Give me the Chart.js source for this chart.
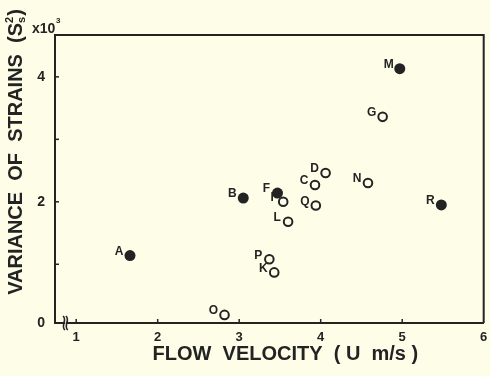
<!DOCTYPE html>
<html>
<head>
<meta charset="utf-8">
<script src="https://cdn.jsdelivr.net/npm/chart.js@4.4.1/dist/chart.umd.min.js"></script>
<style>
html,body{margin:0;padding:0;background:#fdfde8;}
canvas{display:block;}
</style>
</head>
<body>
<canvas id="c" width="490" height="376"></canvas>
<script>
// ---- data ----
const filledLabels = ['A','B','F','M','R'];
const filledVelocity = [1.66, 3.05, 3.47, 4.97, 5.48];
const filledVariance = [1.14, 2.06, 2.14, 4.13, 1.95];

const openLabels = ['C','D','G','I','K','L','N','O','P','Q'];
const openVelocity = [3.93, 4.06, 4.76, 3.54, 3.43, 3.60, 4.58, 2.82, 3.37, 3.94];
const openVariance = [2.27, 2.46, 3.36, 2.00, 0.87, 1.68, 2.30, 0.19, 1.08, 1.94];

const xTickValues = [1, 2, 3, 4, 5, 6];
const yTickValues = [1, 2, 3, 4];
const yTickLabels = {0: '0', 2: '2', 4: '4'};
const xTitle = 'FLOW  VELOCITY  ( U  m/s )';
const yTitle = 'VARIANCE  OF  STRAINS  (S';

const X_MIN = 0.74, X_MAX = 6.0, Y_MIN = 0.06, Y_MAX = 4.67;
const INK = '#232323';
const BG = '#fdfde8';
const FONT = '"Liberation Sans", Arial, Helvetica, sans-serif';

function pts(xs, ys) { return xs.map((x, i) => ({x: x, y: ys[i]})); }

const decor = {
  id: 'decor',
  beforeDraw(chart) {
    const ctx = chart.ctx;
    ctx.save();
    ctx.fillStyle = BG;
    ctx.fillRect(0, 0, chart.width, chart.height);
    ctx.restore();
  },
  afterDraw(chart) {
    const ctx = chart.ctx;
    const a = chart.chartArea;
    const xs = chart.scales.x, ys = chart.scales.y;
    ctx.save();
    ctx.strokeStyle = INK;
    ctx.lineWidth = 2;
    // top and right frame
    ctx.beginPath();
    ctx.moveTo(a.left, a.top);
    ctx.lineTo(a.right, a.top);
    ctx.lineTo(a.right, a.bottom);
    ctx.stroke();
    // inward ticks
    ctx.lineWidth = 1.5;
    xTickValues.slice(0, -1).forEach(v => {
      const px = xs.getPixelForValue(v);
      ctx.beginPath(); ctx.moveTo(px, a.bottom); ctx.lineTo(px, a.bottom - 4); ctx.stroke();
    });
    yTickValues.forEach(v => {
      const py = ys.getPixelForValue(v);
      ctx.beginPath(); ctx.moveTo(a.left, py); ctx.lineTo(a.left + 4, py); ctx.stroke();
    });
    // axis break on x axis
    const b1 = xs.getPixelForValue(0.85), b2 = xs.getPixelForValue(0.885);
    ctx.fillStyle = BG;
    ctx.fillRect(b1 + 1, a.bottom - 3, b2 - b1 - 2, 6);
    ctx.lineWidth = 1.6;
    [b1, b2].forEach(bx => {
      ctx.beginPath();
      ctx.moveTo(bx - 1, a.bottom - 7);
      ctx.bezierCurveTo(bx + 4, a.bottom - 3, bx - 4, a.bottom + 3, bx + 1, a.bottom + 7);
      ctx.stroke();
    });
    // point labels
    ctx.fillStyle = INK;
    ctx.font = 'bold 12px ' + FONT;
    ctx.textAlign = 'center';
    ctx.textBaseline = 'middle';
    const sets = [filledLabels, openLabels];
    sets.forEach((labs, di) => {
      const meta = chart.getDatasetMeta(di);
      meta.data.forEach((el, i) => {
        ctx.fillText(labs[i], el.x - 11, el.y - 4);
      });
    });
    // x10^3
    ctx.font = 'bold 14px ' + FONT;
    ctx.textAlign = 'left';
    ctx.textBaseline = 'alphabetic';
    ctx.fillText('x10', a.left - 23, a.top - 2);
    ctx.font = 'bold 8px ' + FONT;
    ctx.fillText('3', a.left + 1, a.top - 12);
    // x-axis title
    ctx.font = 'bold 20px ' + FONT;
    ctx.textAlign = 'center';
    ctx.textBaseline = 'middle';
    ctx.fillText(xTitle, (a.left + a.right) / 2 + 16, a.bottom + 31);
    // y-axis title (rotated)
    ctx.translate(16, (a.top + a.bottom) / 2 - 27);
    ctx.rotate(-Math.PI / 2);
    ctx.font = 'bold 20px ' + FONT;
    ctx.textBaseline = 'middle';
    const small = 'bold 11px ' + FONT;
    const wMain = ctx.measureText(yTitle).width;
    ctx.font = small;
    const wSmall = ctx.measureText('s').width + 1;
    ctx.font = 'bold 20px ' + FONT;
    const wClose = ctx.measureText(')').width;
    const total = wMain + wSmall + wClose;
    const x0 = -total / 2;
    ctx.textAlign = 'left';
    ctx.fillText(yTitle, x0, 0);
    ctx.font = small;
    ctx.fillText('2', x0 + wMain, -6);
    ctx.fillText('s', x0 + wMain, 6);
    ctx.font = 'bold 20px ' + FONT;
    ctx.fillText(')', x0 + wMain + wSmall, 0);
    ctx.restore();
  }
};

new Chart(document.getElementById('c'), {
  type: 'scatter',
  data: {
    datasets: [
      {
        label: 'filled',
        data: pts(filledVelocity, filledVariance),
        pointRadius: 5.5,
        pointBackgroundColor: INK,
        pointBorderWidth: 0,
        pointHoverRadius: 5.5
      },
      {
        label: 'open',
        data: pts(openVelocity, openVariance),
        pointRadius: 4.3,
        pointBackgroundColor: BG,
        pointBorderColor: INK,
        pointBorderWidth: 2,
        pointHoverRadius: 4.3
      }
    ]
  },
  options: {
    responsive: false,
    animation: false,
    events: [],
    layout: {padding: {left: 0, top: 35, right: 5, bottom: 0}},
    plugins: {legend: {display: false}, tooltip: {enabled: false}},
    scales: {
      x: {
        type: 'linear',
        min: X_MIN, max: X_MAX,
        afterBuildTicks: s => { s.ticks = xTickValues.map(v => ({value: v})); },
        afterFit: s => { s.height = 53; s.paddingLeft = 0; s.paddingRight = 0; },
        grid: {display: false, drawTicks: false},
        border: {display: true, color: INK, width: 2},
        ticks: {
          color: INK, padding: 7, maxRotation: 0, autoSkip: false,
          font: {family: FONT, size: 13, weight: 'bold'},
          callback: v => String(v)
        },
        title: {display: false}
      },
      y: {
        type: 'linear',
        min: Y_MIN, max: Y_MAX,
        afterBuildTicks: s => {
          s.ticks = [{value: Y_MIN}].concat(yTickValues.map(v => ({value: v})));
        },
        afterFit: s => { s.width = 55; s.paddingTop = 0; s.paddingBottom = 0; },
        grid: {display: false, drawTicks: false},
        border: {display: true, color: INK, width: 2},
        ticks: {
          color: INK, padding: 10, autoSkip: false,
          font: {family: FONT, size: 14, weight: 'bold'},
          callback: v => (v === Y_MIN ? yTickLabels[0] : (yTickLabels[v] || ''))
        }
      }
    }
  },
  plugins: [decor]
});
</script>
</body>
</html>
